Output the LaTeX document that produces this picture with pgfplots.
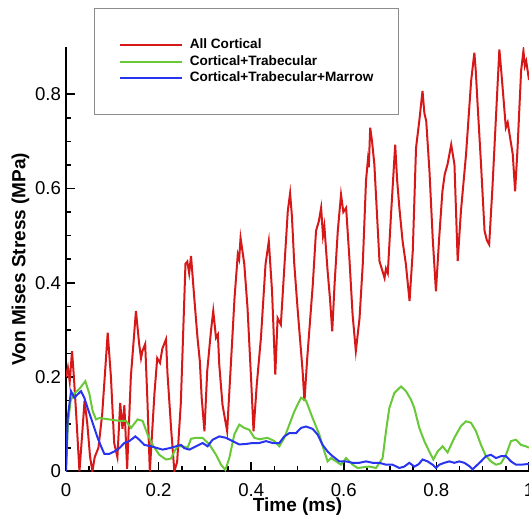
\documentclass[border={2.5pt 0pt 0pt 4pt}]{standalone}
\usepackage{fontspec}
\setmainfont{Liberation Sans}
\usepackage{pgfplots}
\pgfplotsset{compat=1.18}
\definecolor{curvered}{RGB}{214,24,24}
\definecolor{curvegreen}{RGB}{104,200,56}
\definecolor{curveblue}{RGB}{40,52,240}

\begin{document}
\begin{tikzpicture}[trim axis right]
\begin{axis}[
  scale only axis,
  width=231.5pt, height=212.15pt,
  xmin=0, xmax=1, ymin=0, ymax=0.9,
  axis lines=left,
  axis line style={-, line width=1pt},
  tick align=inside,
  major tick length=4.5pt, minor tick length=2.6pt,
  every tick/.style={black, line width=0.8pt},
  xtick={0,0.2,...,1}, ytick={0,0.2,...,0.8},
  minor x tick num=3, minor y tick num=3,
  /pgf/number format/assume math mode=true,
  tick label style={font=\fontsize{9.3}{11}\selectfont},
  xticklabel shift=2.5pt,
  yticklabel shift=-1pt,
  xlabel={\textbf{Time (ms)}},
  ylabel={\textbf{Von Mises Stress (MPa)}},
  label style={font=\fontsize{9.5}{11}\selectfont},
  xlabel style={yshift=6.5pt},
  ylabel shift=-4pt,
  legend cell align=left,
  legend style={at={(0.061,1.092)}, anchor=north west,
    draw=black!45, line width=0.5pt,
    font=\fontsize{6.8}{8}\selectfont\bfseries,
    inner xsep=12pt, inner ysep=14.5pt,
    nodes={inner sep=0.5pt, text height=5pt, text depth=1.5pt},
    row sep=0.85pt},
  legend image code/.code={\draw[#1] (0pt,0pt) -- (31pt,0pt); \path (34pt,0pt);},
]
\addplot[curvered, line width=1pt] coordinates {
(0,0.20) (0.004,0.22) (0.008,0.19) (0.013,0.255) (0.017,0.20) (0.022,0.12)
(0.029,0.0) (0.035,0.08) (0.040,0.15) (0.046,0.10) (0.052,0.03) (0.057,0.0)
(0.062,0.03) (0.070,0.05) (0.078,0.12) (0.085,0.22) (0.090,0.294) (0.097,0.20)
(0.104,0.06) (0.111,0.03) (0.117,0.145) (0.122,0.09) (0.126,0.14) (0.132,0.005)
(0.140,0.20) (0.151,0.34) (0.158,0.27) (0.162,0.24) (0.165,0.255) (0.171,0.27)
(0.176,0.145) (0.181,0.0) (0.191,0.165) (0.197,0.24) (0.203,0.23) (0.208,0.26)
(0.216,0.28) (0.219,0.21) (0.227,0.09) (0.234,0.0) (0.240,0.02) (0.248,0.145)
(0.258,0.44) (0.262,0.445) (0.266,0.42) (0.270,0.457) (0.277,0.368) (0.284,0.283)
(0.289,0.234) (0.293,0.156) (0.299,0.085) (0.305,0.213) (0.313,0.297) (0.318,0.34)
(0.324,0.283) (0.328,0.29) (0.331,0.226) (0.338,0.141) (0.348,0.085) (0.356,0.226)
(0.364,0.368) (0.371,0.46) (0.374,0.45) (0.377,0.495) (0.385,0.44) (0.392,0.347)
(0.400,0.191) (0.405,0.085) (0.412,0.184) (0.421,0.283) (0.431,0.44) (0.438,0.488)
(0.445,0.382) (0.452,0.205) (0.457,0.325) (0.464,0.311) (0.472,0.44) (0.479,0.552)
(0.484,0.59) (0.488,0.54) (0.493,0.44) (0.500,0.347) (0.511,0.213) (0.515,0.149)
(0.521,0.24) (0.533,0.396) (0.540,0.51) (0.546,0.53) (0.551,0.559) (0.555,0.50)
(0.558,0.520) (0.565,0.425) (0.570,0.368) (0.575,0.297) (0.580,0.396) (0.587,0.51)
(0.594,0.587) (0.599,0.55) (0.605,0.559) (0.612,0.453) (0.619,0.332) (0.626,0.255)
(0.634,0.325) (0.641,0.44) (0.648,0.617) (0.652,0.66) (0.654,0.645) (0.657,0.729)
(0.661,0.70) (0.666,0.651) (0.677,0.446) (0.688,0.41) (0.691,0.43) (0.695,0.42)
(0.702,0.545) (0.711,0.693) (0.715,0.62) (0.720,0.559) (0.727,0.488) (0.734,0.44)
(0.742,0.361) (0.749,0.468) (0.756,0.686) (0.763,0.743) (0.770,0.807) (0.774,0.76)
(0.778,0.743) (0.785,0.637) (0.792,0.495) (0.799,0.382) (0.806,0.495) (0.813,0.594)
(0.818,0.63) (0.824,0.651) (0.832,0.693) (0.839,0.651) (0.846,0.446) (0.853,0.552)
(0.864,0.672) (0.875,0.828) (0.882,0.888) (0.885,0.85) (0.889,0.778) (0.896,0.658)
(0.904,0.51) (0.909,0.49) (0.914,0.481) (0.921,0.601) (0.930,0.778) (0.936,0.895)
(0.940,0.85) (0.943,0.814) (0.950,0.729) (0.954,0.74) (0.958,0.715) (0.965,0.672)
(0.970,0.594) (0.975,0.68) (0.983,0.85) (0.988,0.892) (0.991,0.86) (0.994,0.87)
(1.0,0.83)
};
\addplot[curvegreen, line width=1pt] coordinates {
(0,0.0) (0.004,0.10) (0.010,0.15) (0.018,0.165) (0.029,0.175) (0.0417,0.191)
(0.0503,0.165) (0.0575,0.128) (0.0648,0.11) (0.0719,0.113) (0.0935,0.11)
(0.1151,0.107) (0.1296,0.107) (0.1404,0.092) (0.1546,0.11) (0.1654,0.107)
(0.1762,0.078) (0.187,0.056) (0.2015,0.035) (0.216,0.025) (0.2268,0.027)
(0.2339,0.042) (0.241,0.053) (0.2518,0.053) (0.2626,0.05) (0.27,0.069)
(0.2808,0.071) (0.295,0.071) (0.3095,0.057) (0.324,0.035) (0.3348,0.014)
(0.3441,0.003) (0.3527,0.028) (0.3635,0.078) (0.3743,0.099) (0.3851,0.092)
(0.3959,0.088) (0.4067,0.071) (0.4175,0.068) (0.4354,0.071) (0.4499,0.064)
(0.4607,0.053) (0.4715,0.071) (0.4823,0.099) (0.4931,0.127) (0.5076,0.156)
(0.5184,0.15) (0.5326,0.113) (0.5471,0.078) (0.5579,0.042) (0.565,0.021)
(0.5724,0.028) (0.5832,0.021) (0.594,0.014) (0.6048,0.028) (0.619,0.014)
(0.6298,0.007) (0.6551,0.01) (0.6695,0.007) (0.6838,0.028) (0.6911,0.085)
(0.6983,0.134) (0.7091,0.166) (0.7235,0.18) (0.7343,0.17) (0.7451,0.152)
(0.7523,0.134) (0.7631,0.092) (0.7739,0.064) (0.7847,0.042) (0.7933,0.025)
(0.8026,0.042) (0.8134,0.053) (0.8242,0.04) (0.8387,0.071) (0.8531,0.096)
(0.8639,0.106) (0.8747,0.103) (0.8855,0.085) (0.8963,0.056) (0.9071,0.032)
(0.9179,0.021) (0.9287,0.014) (0.9395,0.017) (0.9503,0.035) (0.9611,0.064)
(0.9719,0.067) (0.9827,0.056) (0.9935,0.053) (1.0,0.05)
};
\addplot[curveblue, line width=1pt] coordinates {
(0,0.0) (0.0036,0.113) (0.0108,0.17) (0.018,0.156) (0.025,0.163) (0.0324,0.17)
(0.0395,0.156) (0.0467,0.134) (0.054,0.113) (0.0611,0.092) (0.0683,0.071)
(0.0756,0.053) (0.0827,0.037) (0.0935,0.037) (0.1043,0.042) (0.1151,0.049)
(0.1259,0.06) (0.1367,0.064) (0.1497,0.074) (0.1583,0.067) (0.1691,0.056)
(0.1836,0.053) (0.1978,0.049) (0.2086,0.046) (0.2231,0.049) (0.2376,0.053)
(0.2484,0.056) (0.2555,0.049) (0.2663,0.046) (0.2808,0.053) (0.295,0.06)
(0.3058,0.053) (0.3166,0.067) (0.3311,0.074) (0.3456,0.071) (0.3598,0.064)
(0.3743,0.057) (0.3888,0.058) (0.403,0.06) (0.4175,0.06) (0.432,0.064)
(0.4462,0.06) (0.4607,0.06) (0.4715,0.074) (0.4823,0.081) (0.4968,0.081)
(0.5076,0.092) (0.5184,0.095) (0.5326,0.09) (0.5434,0.078) (0.5542,0.056)
(0.565,0.042) (0.5758,0.032) (0.5903,0.021) (0.6048,0.021) (0.619,0.018)
(0.6335,0.018) (0.648,0.021) (0.6622,0.018) (0.6767,0.018) (0.6911,0.014)
(0.7054,0.014) (0.7199,0.007) (0.7307,0.01) (0.7415,0.018) (0.7523,0.01)
(0.7616,0.015) (0.7702,0.025) (0.781,0.021) (0.7918,0.014) (0.7991,0.007)
(0.8063,0.014) (0.8171,0.018) (0.8279,0.021) (0.8387,0.018) (0.8495,0.021)
(0.8603,0.018) (0.8711,0.011) (0.8782,0.004) (0.8855,0.011) (0.8963,0.021)
(0.9071,0.032) (0.9179,0.035) (0.9287,0.028) (0.9395,0.032) (0.9503,0.032)
(0.9611,0.021) (0.9719,0.014) (0.9827,0.014) (0.9935,0.015) (1.0,0.015)
};
\legend{All Cortical,Cortical+Trabecular,Cortical+Trabecular+Marrow}
\end{axis}
\end{tikzpicture}
\end{document}
